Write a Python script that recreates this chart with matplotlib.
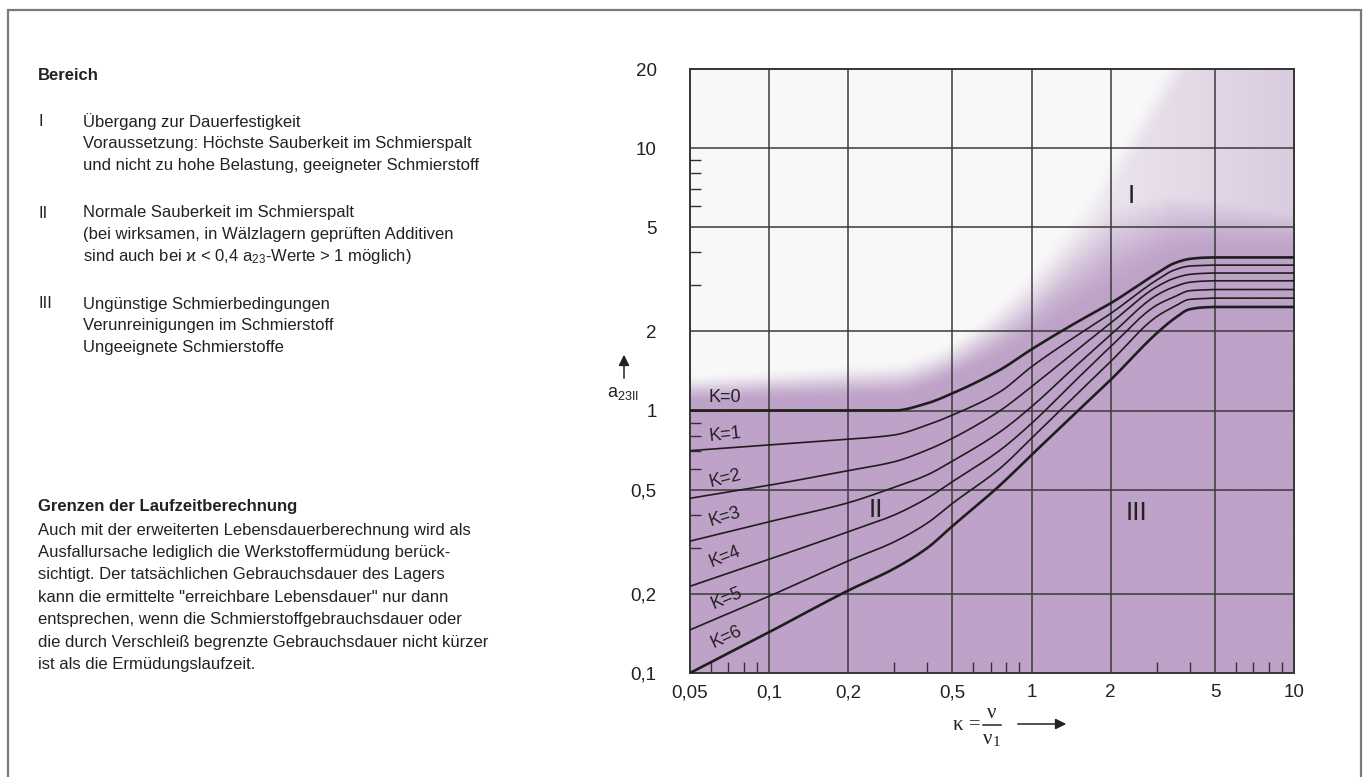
import numpy as np
import matplotlib
matplotlib.use("Agg")
import matplotlib.pyplot as plt
from matplotlib.patches import Rectangle
from matplotlib.lines import Line2D
from matplotlib.ticker import FixedLocator, FixedFormatter, NullFormatter

plt.rcParams['font.family'] = ['Liberation Sans', 'DejaVu Sans']
plt.rcParams['mathtext.fontset'] = 'custom'
plt.rcParams['mathtext.rm'] = 'Liberation Sans'
plt.rcParams['mathtext.it'] = 'Liberation Sans:italic'

# --- data ---
kappa = [0.05, 0.1, 0.2, 0.3, 0.4, 0.5, 0.76, 1, 1.5, 2, 3, 3.5, 4, 4.5, 5, 10]
a23_k0 = [1.0, 1.0, 1.0, 1.0, 1.065, 1.163, 1.43, 1.71, 2.18, 2.56, 3.33, 3.64, 3.78, 3.82, 3.83, 3.83]
a23_k1 = [0.703, 0.739, 0.777, 0.807, 0.88, 0.961, 1.18, 1.468, 1.94, 2.34, 3.14, 3.43, 3.55, 3.57, 3.58, 3.58]
a23_k2 = [0.463, 0.519, 0.590, 0.638, 0.707, 0.784, 1.0, 1.232, 1.71, 2.15, 2.96, 3.19, 3.30, 3.33, 3.34, 3.34]
a23_k3 = [0.318, 0.377, 0.445, 0.51, 0.568, 0.642, 0.83, 1.034, 1.50, 1.94, 2.75, 2.96, 3.08, 3.11, 3.12, 3.12]
a23_k4 = [0.214, 0.271, 0.345, 0.40, 0.463, 0.536, 0.707, 0.893, 1.327, 1.75, 2.52, 2.71, 2.86, 2.88, 2.89, 2.89]
a23_k5 = [0.146, 0.196, 0.267, 0.316, 0.372, 0.443, 0.603, 0.784, 1.163, 1.535, 2.28, 2.49, 2.65, 2.67, 2.68, 2.68]
a23_k6 = [0.1, 0.143, 0.206, 0.25, 0.299, 0.363, 0.52, 0.677, 0.996, 1.307, 1.97, 2.24, 2.43, 2.47, 2.48, 2.48]
curves = [a23_k0, a23_k1, a23_k2, a23_k3, a23_k4, a23_k5, a23_k6]
k_labels = ['K=0', 'K=1', 'K=2', 'K=3', 'K=4', 'K=5', 'K=6']

x_ticks = [0.05, 0.1, 0.2, 0.5, 1, 2, 5, 10]
x_ticklabels = ['0,05', '0,1', '0,2', '0,5', '1', '2', '5', '10']
y_ticks = [0.1, 0.2, 0.5, 1, 2, 5, 10, 20]
y_ticklabels = ['0,1', '0,2', '0,5', '1', '2', '5', '10', '20']
x_minor = [0.06, 0.07, 0.08, 0.09, 0.3, 0.4, 0.6, 0.7, 0.8, 0.9, 3, 4, 6, 7, 8, 9]
y_minor = [0.3, 0.4, 0.6, 0.7, 0.8, 0.9, 3, 4, 6, 7, 8, 9]

bereich = [
    ('I', ['Übergang zur Dauerfestigkeit',
           'Voraussetzung: Höchste Sauberkeit im Schmierspalt',
           'und nicht zu hohe Belastung, geeigneter Schmierstoff']),
    ('II', ['Normale Sauberkeit im Schmierspalt',
            '(bei wirksamen, in Wälzlagern geprüften Additiven',
            'sind auch bei ϰ < 0,4 a$_{23}$-Werte > 1 möglich)']),
    ('III', ['Ungünstige Schmierbedingungen',
             'Verunreinigungen im Schmierstoff',
             'Ungeeignete Schmierstoffe']),
]
grenzen = [
    'Auch mit der erweiterten Lebensdauerberechnung wird als',
    'Ausfallursache lediglich die Werkstoffermüdung berück-',
    'sichtigt. Der tatsächlichen Gebrauchsdauer des Lagers',
    'kann die ermittelte "erreichbare Lebensdauer" nur dann',
    'entsprechen, wenn die Schmierstoffgebrauchsdauer oder',
    'die durch Verschleiß begrenzte Gebrauchsdauer nicht kürzer',
    'ist als die Ermüdungslaufzeit.',
]


def pchip(x, y, xn):
    # monotone cubic interpolation (used in log-log space)
    x = np.asarray(x, float)
    y = np.asarray(y, float)
    h = np.diff(x)
    d = np.diff(y) / h
    m = np.zeros_like(y)
    m[0], m[-1] = d[0], d[-1]
    for i in range(1, len(y) - 1):
        if d[i - 1] * d[i] > 0:
            w1 = 2 * h[i] + h[i - 1]
            w2 = h[i] + 2 * h[i - 1]
            m[i] = (w1 + w2) / (w1 / d[i - 1] + w2 / d[i])
    idx = np.clip(np.searchsorted(x, xn) - 1, 0, len(h) - 1)
    t = (xn - x[idx]) / h[idx]
    h00 = 2 * t**3 - 3 * t**2 + 1
    h10 = t**3 - 2 * t**2 + t
    h01 = -2 * t**3 + 3 * t**2
    h11 = t**3 - t**2
    return h00 * y[idx] + h10 * h[idx] * m[idx] + h01 * y[idx + 1] + h11 * h[idx] * m[idx + 1]


def smooth(s):
    return s * s * (3 - 2 * s)


W, H = 1366, 777
fig = plt.figure(figsize=(W / 100, H / 100), dpi=100)


def fpx(x, y):
    return x / W, 1 - y / H


ax = fig.add_axes([690 / W, 104 / H, 604 / W, 604 / H])
ax.set_xscale('log')
ax.set_yscale('log')

lx = np.log10(kappa)

# background shading: purple under the K=0 curve, fading out above it,
# light lavender in region I
U = np.linspace(np.log10(0.05), 1, 500)
V = np.linspace(-1, np.log10(20), 500)
UU, VV = np.meshgrid(U, V)
v0 = pchip(lx, np.log10(a23_k0), U)[None, :]
d = VV - v0
da = np.interp(U, [-1.3, -0.3, 0, 0.6, 1], [0.03, 0.05, 0.03, 0.0, 0.0])[None, :]
db = np.interp(U, [-1.3, -0.3, 0, 0.3, 0.6, 1], [0.14, 0.21, 0.32, 0.55, 0.4, 0.35])[None, :]
t_main = 1 - smooth(np.clip((d - da) / (db - da), 0, 1))
e = smooth(np.clip((UU - (VV - 0.49) / 1.65) / 0.12, 0, 1))
lvl = 0.12 + 0.4 * np.clip(UU, 0, 1)
t = np.maximum(t_main, e * lvl)
purple = np.array([190, 162, 200]) / 255
white = np.array([0.975, 0.975, 0.975])
rgb = white * (1 - t[..., None]) + purple * t[..., None]
ax.imshow(rgb, origin='lower', extent=(0, 1, 0, 1), transform=ax.transAxes,
          aspect='auto', interpolation='bilinear', zorder=0)

xs = np.logspace(np.log10(0.05), 1, 400)
for i, c in enumerate(curves):
    ys = 10 ** pchip(lx, np.log10(c), np.log10(xs))
    lw = 1.9 if i in (0, 6) else 1.2
    ax.plot(xs, ys, color='#1e1e1e', lw=lw, zorder=3, solid_capstyle='butt')

label_pos = [(0.068, 1.125, 0), (0.068, 0.807, 6), (0.068, 0.552, 14), (0.068, 0.394, 17),
             (0.068, 0.277, 22), (0.069, 0.193, 23), (0.069, 0.137, 25)]
for lab, (x, y, rot) in zip(k_labels, label_pos):
    ax.text(x, y, lab, fontsize=13, rotation=rot, ha='center', va='center',
            color='#222222', zorder=4, rotation_mode='anchor')

ax.text(2.39, 6.56, 'I', fontsize=19, ha='center', va='center', color='#222222', zorder=4)
ax.text(0.256, 0.418, 'II', fontsize=19, ha='center', va='center', color='#222222', zorder=4)
ax.text(2.52, 0.407, 'III', fontsize=19, ha='center', va='center', color='#222222', zorder=4)

ax.set_xlim(0.05, 10)
ax.set_ylim(0.1, 20)
ax.xaxis.set_major_locator(FixedLocator(x_ticks))
ax.xaxis.set_major_formatter(FixedFormatter(x_ticklabels))
ax.yaxis.set_major_locator(FixedLocator(y_ticks))
ax.yaxis.set_major_formatter(FixedFormatter(y_ticklabels))
ax.xaxis.set_minor_locator(FixedLocator(x_minor))
ax.yaxis.set_minor_locator(FixedLocator(y_minor))
ax.xaxis.set_minor_formatter(NullFormatter())
ax.yaxis.set_minor_formatter(NullFormatter())
ax.tick_params(which='major', length=0, labelsize=13.5, labelcolor='#222222')
ax.tick_params(axis='x', which='major', pad=8)
ax.tick_params(axis='y', which='major', pad=24)
ax.tick_params(which='minor', direction='in', length=8, width=1, color='#333333')
ax.grid(which='major', color='#3a3a3a', lw=1.1, zorder=2)
ax.set_axisbelow(False)
for sp in ax.spines.values():
    sp.set_color('#333333')
    sp.set_linewidth(1.4)

# y label with arrow
fig.text(*fpx(607, 393), r'a$_{23\mathrm{II}}$', fontsize=13, ha='left', va='center',
         color='#222222', math_fontfamily='custom')
ax.annotate('', xy=fpx(624, 352), xytext=fpx(624, 381), xycoords='figure fraction',
            textcoords='figure fraction',
            arrowprops=dict(arrowstyle='-|>', color='#222222', lw=1.1, mutation_scale=16))

# x label: kappa = nu / nu1, set as a small built fraction, with arrow
serif = ['Liberation Serif', 'DejaVu Serif']
fig.text(*fpx(953, 725), 'κ =', fontsize=15, family=serif, ha='left', va='center',
         color='#222222')
fig.text(*fpx(991.5, 713), 'ν', fontsize=15, family=serif, ha='center', va='center',
         color='#222222')
fig.text(*fpx(983, 739), 'ν', fontsize=15, family=serif, ha='left', va='center',
         color='#222222')
fig.text(*fpx(993, 743), '1', fontsize=11, family=serif, ha='left', va='center',
         color='#222222')
fig.add_artist(Line2D([983 / W, 1001 / W], [1 - 724.5 / H, 1 - 724.5 / H],
                      transform=fig.transFigure, color='#222222', lw=1.1))
ax.annotate('', xy=fpx(1069, 724), xytext=fpx(1015, 724), xycoords='figure fraction',
            textcoords='figure fraction',
            arrowprops=dict(arrowstyle='-|>', color='#222222', lw=1.1, mutation_scale=16))

# left text block
fig.text(*fpx(38, 76), 'Bereich', fontsize=12, fontweight='bold', va='center', color='#222222')
y0 = 122
for num, lines in bereich:
    fig.text(*fpx(38, y0), num, fontsize=12, va='center', color='#222222')
    for j, line in enumerate(lines):
        fig.text(*fpx(83, y0 + j * 21.7), line, fontsize=12, va='center', color='#222222',
                 math_fontfamily='custom')
    y0 += 91

fig.text(*fpx(38, 507), 'Grenzen der Laufzeitberechnung', fontsize=12, fontweight='bold',
         va='center', color='#222222')
for j, line in enumerate(grenzen):
    fig.text(*fpx(38, 530 + j * 22.4), line, fontsize=12, va='center', color='#222222')

# outer frame
fig.add_artist(Rectangle((8 / W, -0.05), (1361 - 8) / W, (H - 10) / H + 0.05,
                         transform=fig.transFigure, fill=False, ec='#7a7a7a', lw=1.6))

fig.savefig('out.png', dpi=100)
